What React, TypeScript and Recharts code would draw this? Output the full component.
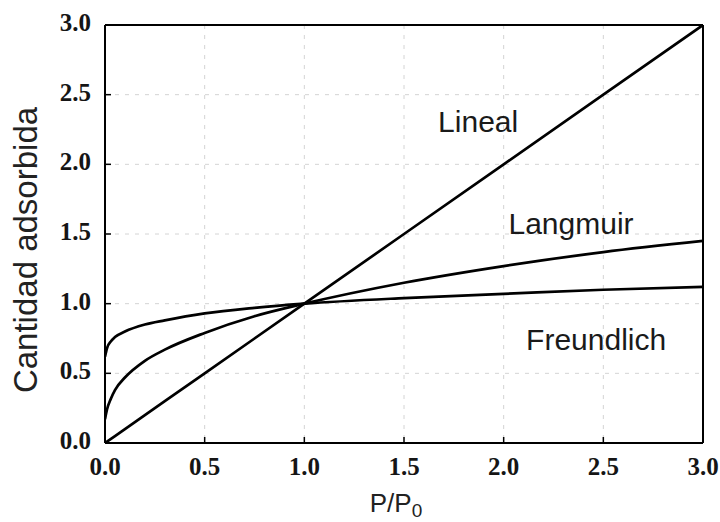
import React from 'react';
import { LineChart, Line, XAxis, YAxis, CartesianGrid, ReferenceLine, ReferenceDot, Label } from 'recharts';

const X_VALUES = [0, 0.01, 0.03, 0.05, 0.1, 0.2, 0.3, 0.5, 0.75, 1, 1.5, 2, 2.5, 3];
const LINEAL = [0, 0.01, 0.03, 0.05, 0.1, 0.2, 0.3, 0.5, 0.75, 1, 1.5, 2, 2.5, 3];
const LANGMUIR = [0.17, 0.24, 0.32, 0.38, 0.47, 0.59, 0.67, 0.79, 0.91, 1.0, 1.15, 1.27, 1.37, 1.45];
const FREUNDLICH = [0.62, 0.68, 0.73, 0.76, 0.8, 0.85, 0.88, 0.93, 0.97, 1.0, 1.04, 1.07, 1.1, 1.12];

const TICKS = [0, 0.5, 1, 1.5, 2, 2.5, 3];
const TICK_LABELS = ['0.0', '0.5', '1.0', '1.5', '2.0', '2.5', '3.0'];

const ANNOTATIONS = [
  { text: 'Lineal', x: 1.872, y: 2.232 },
  { text: 'Langmuir', x: 2.338, y: 1.5 },
  { text: 'Freundlich', x: 2.464, y: 0.667 },
];

const data = X_VALUES.map((x, i) => ({
  x,
  lineal: LINEAL[i],
  langmuir: LANGMUIR[i],
  freundlich: FREUNDLICH[i],
}));

const tickFont = {
  fontFamily: '"Liberation Serif", "Times New Roman", serif',
  fontSize: 25,
  fontWeight: 'bold' as const,
  fill: '#151515',
};

const sansFont = '"Liberation Sans", Arial, sans-serif';

const labelFor = (v: number) => {
  const i = TICKS.indexOf(v);
  return i >= 0 ? TICK_LABELS[i] : String(v);
};

const PLOT_LEFT = 105;
const PLOT_BOTTOM = 443;

const XTick = (props: any) => {
  const { x, payload } = props;
  const y = PLOT_BOTTOM;
  return (
    <g>
      <line x1={x} x2={x} y1={y} y2={y - 6} stroke="#000" strokeWidth={1.5} />
      <text x={x} y={y + 32} textAnchor="middle" {...tickFont}>
        {labelFor(payload.value)}
      </text>
    </g>
  );
};

const YTick = (props: any) => {
  const { y, payload } = props;
  const x = PLOT_LEFT;
  return (
    <g>
      <line x1={x} x2={x + 6} y1={y} y2={y} stroke="#000" strokeWidth={1.5} />
      <text x={x - 14} y={y + 6} textAnchor="end" {...tickFont}>
        {labelFor(payload.value)}
      </text>
    </g>
  );
};

const XTitle = (props: any) => {
  const vb = props.viewBox;
  const cx = vb.x + vb.width / 2 - 8;
  const by = PLOT_BOTTOM + 69;
  return (
    <text x={cx} y={by} textAnchor="middle" fontFamily={sansFont} fontSize={26} fill="#222">
      <tspan>P/P</tspan>
      <tspan fontSize={19} dy={5}>0</tspan>
    </text>
  );
};

const YTitle = (props: any) => {
  const vb = props.viewBox;
  const bx = PLOT_LEFT - 68;
  const cy = vb.y + vb.height / 2 + 16;
  return (
    <text
      x={bx}
      y={cy}
      textAnchor="middle"
      transform={`rotate(-90, ${bx}, ${cy})`}
      fontFamily={sansFont}
      fontSize={33}
      fill="#222"
    >
      Cantidad adsorbida
    </text>
  );
};

const annoContent = (text: string) => (props: any) => {
  const vb = props.viewBox;
  const cx = vb.x + (vb.width || 0) / 2;
  const cy = vb.y + (vb.height || 0) / 2;
  return (
    <text x={cx} y={cy} textAnchor="middle" fontFamily={sansFont} fontSize={30} fill="#1a1a1a">
      {text}
    </text>
  );
};

export default function App() {
  return (
    <div style={{ position: 'fixed', left: 0, top: 0, width: 720, height: 522, background: '#fff' }}>
      <LineChart
        width={720}
        height={522}
        data={data}
        margin={{ top: 25, right: 17, bottom: 39, left: 45 }}
      >
        <CartesianGrid stroke="#d4d4d4" strokeDasharray="4 6" strokeWidth={1} />
        <XAxis
          type="number"
          dataKey="x"
          domain={[0, 3]}
          ticks={TICKS}
          interval={0}
          height={40}
          tickSize={0}
          tickMargin={0}
          tick={XTick}
          tickLine={false}
          axisLine={{ stroke: '#000', strokeWidth: 2 }}
          allowDataOverflow
        >
          <Label content={XTitle} />
        </XAxis>
        <YAxis
          type="number"
          domain={[0, 3]}
          ticks={TICKS}
          interval={0}
          width={60}
          tickSize={0}
          tickMargin={0}
          tick={YTick}
          tickLine={false}
          axisLine={{ stroke: '#000', strokeWidth: 2 }}
          allowDataOverflow
        >
          <Label content={YTitle} />
        </YAxis>
        <ReferenceLine y={3} stroke="#000" strokeWidth={2} />
        <ReferenceLine x={3} stroke="#000" strokeWidth={2} />
        <Line dataKey="lineal" type="linear" stroke="#000" strokeWidth={2.7} dot={false} activeDot={false} isAnimationActive={false} />
        <Line dataKey="langmuir" type="monotone" stroke="#000" strokeWidth={2.7} dot={false} activeDot={false} isAnimationActive={false} />
        <Line dataKey="freundlich" type="monotone" stroke="#000" strokeWidth={2.7} dot={false} activeDot={false} isAnimationActive={false} />
        {ANNOTATIONS.map((a) => (
          <ReferenceDot key={a.text} x={a.x} y={a.y} r={0} fill="none" stroke="none">
            <Label content={annoContent(a.text)} />
          </ReferenceDot>
        ))}
      </LineChart>
    </div>
  );
}
